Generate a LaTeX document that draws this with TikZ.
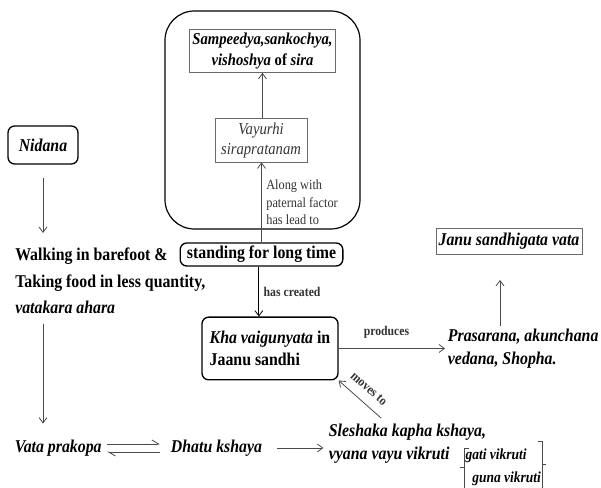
\documentclass[tikz,border=0pt]{standalone}
\usepackage{fontspec}
\setmainfont{Liberation Serif}[FakeStretch=0.88]
\definecolor{linegray}{HTML}{4A4A4A}
\definecolor{boxgray}{HTML}{6A6A6A}
\definecolor{textgray}{HTML}{333333}
\usetikzlibrary{arrows.meta, positioning}

\begin{document}
\begin{tikzpicture}[
    x=0.75pt, y=-0.75pt,
    bigtxt/.style={font=\fontsize{13.5pt}{20pt}\selectfont\bfseries},
    midtxt/.style={font=\fontsize{13.5pt}{17pt}\selectfont\bfseries},
    rbox/.style={draw=black, line width=1pt, rounded corners=5pt, inner sep=2pt},
    sbox/.style={draw=boxgray, line width=0.6pt, inner sep=2pt},
    frame/.style={draw=black, line width=0.9pt, rounded corners=22pt},
    arrow/.style={-{Straight Barb[length=4pt, width=6pt]}, draw=linegray, line width=0.6pt},
    harp/.style={-{Straight Barb[harpoon, length=5pt, width=6pt]}, draw=linegray, line width=0.6pt},
    lbl/.style={font=\fontsize{10pt}{12pt}\selectfont\bfseries, text=textgray},
    brk/.style={draw=linegray, line width=0.6pt}
  ]
    \useasboundingbox (0,0) rectangle (601,488);

    % upper frame with the two sira boxes
    \node[frame, minimum width=146.25pt, minimum height=163.5pt] (frame) at (262.5,120) {};
    \node[sbox, minimum width=105.75pt, minimum height=32.25pt, align=center,
          font=\fontsize{12.5pt}{16pt}\selectfont\bfseries] (sira) at (262.5,51)
      {\textit{Sampeedya,sankochya,}\\\textit{vishoshya} of \textit{sira}};
    \node[sbox, minimum width=69pt, minimum height=33pt, align=center,
          font=\fontsize{12.5pt}{15pt}\selectfont\itshape, text=textgray] (vayu) at (261,140)
      {Vayurhi\\sirapratanam};

    \node[rbox, bigtxt, minimum width=52.5pt, minimum height=28.5pt] (nidana) at (43,145)
      {\textit{Nidana}};
    \node[bigtxt, anchor=west, align=left, inner sep=0pt] (walk) at (15,281)
      {Walking in barefoot \&\\Taking food in less quantity,\\\textit{vatakara ahara}};

    \node[rbox, bigtxt, minimum width=122pt, minimum height=17.25pt] (stand) at (261.5,254.5)
      {standing for long time};
    \node[rbox, midtxt, minimum width=102pt, minimum height=47pt, align=left] (kha) at (270,348.5)
      {\textit{Kha vaigunyata} in\\Jaanu sandhi};
    \node[midtxt, anchor=west, align=left, inner sep=2pt] (pras) at (445,348.5)
      {\textit{Prasarana, akunchana}\\\textit{vedana, Shopha.}};
    \node[sbox, bigtxt, minimum width=109.5pt, minimum height=19pt] (janu) at (509,241.5)
      {\textit{Janu sandhigata vata}};
    \coordinate (up) at (500,280);

    \node[bigtxt, anchor=west, inner sep=2pt] (vata) at (12,448) {\textit{Vata prakopa}};
    \node[bigtxt, anchor=west, inner sep=2pt] (dhatu) at (168,448) {\textit{Dhatu kshaya}};
    \node[midtxt, anchor=west, align=left, inner sep=2pt] (sles) at (326,444)
      {\textit{Sleshaka kapha kshaya,}\\\textit{vyana vayu vikruti}};
    \node[font=\fontsize{11.5pt}{17pt}\selectfont\bfseries\itshape, anchor=west, align=left,
          inner sep=1pt] (gv) at (464,467)
      {gati vikruti\\\hspace*{5pt}guna vikruti};
    \coordinate (mv) at (381,418);

    % connectors
    \draw[arrow] (vayu.north -| sira.south) -- (sira.south);
    \draw[arrow] (stand.north) -- node[right, align=left, text=textgray,
        font=\fontsize{10.5pt}{13pt}\selectfont] {Along with\\paternal factor\\has lead to}
      (stand.north |- vayu.south);
    \draw[arrow, shorten <=10pt, shorten >=11pt] (nidana.south) -- (nidana.south |- walk.north);
    \draw[arrow, draw=black] ([xshift=-2pt]stand.south) -- node[right, lbl] {has created}
      ([xshift=-2pt]stand.south |- kha.north);
    \draw[arrow] (kha.east) -- node[above=4pt, lbl, pos=0.45] {produces} (pras.west);
    \draw[arrow] (pras.north -| up) -- (up);
    \draw[arrow, shorten <=7pt, shorten >=10pt] (walk.south -| nidana.south) -- (nidana.south |- vata.north);
    \draw[harp, shorten <=2pt, shorten >=6pt] ([yshift=3pt]vata.east) -- ([yshift=3pt]dhatu.west);
    \draw[harp, shorten <=6pt, shorten >=2pt] ([yshift=-3pt]dhatu.west) -- ([yshift=-3pt]vata.east);
    \draw[arrow, shorten <=9pt, shorten >=2pt] (dhatu.east) -- (sles.west |- dhatu.east);
    \draw[arrow] (mv) -- node[sloped, above=6pt, lbl, inner sep=1pt] {moves to} (kha.south east);

    % brackets round the vikruti pair
    \draw[brk] ([xshift=4pt, yshift=-1pt]gv.north west) -| ([yshift=-6pt]gv.south west);
    \draw[brk] (gv.west) -- ++(-3pt,0);
    \draw[brk] ([xshift=-3pt, yshift=4pt]gv.north east) -| ([yshift=-6pt]gv.south east);
    \draw[brk] ([yshift=2pt]gv.east) -- ++(3pt,0);
\end{tikzpicture}
\end{document}
